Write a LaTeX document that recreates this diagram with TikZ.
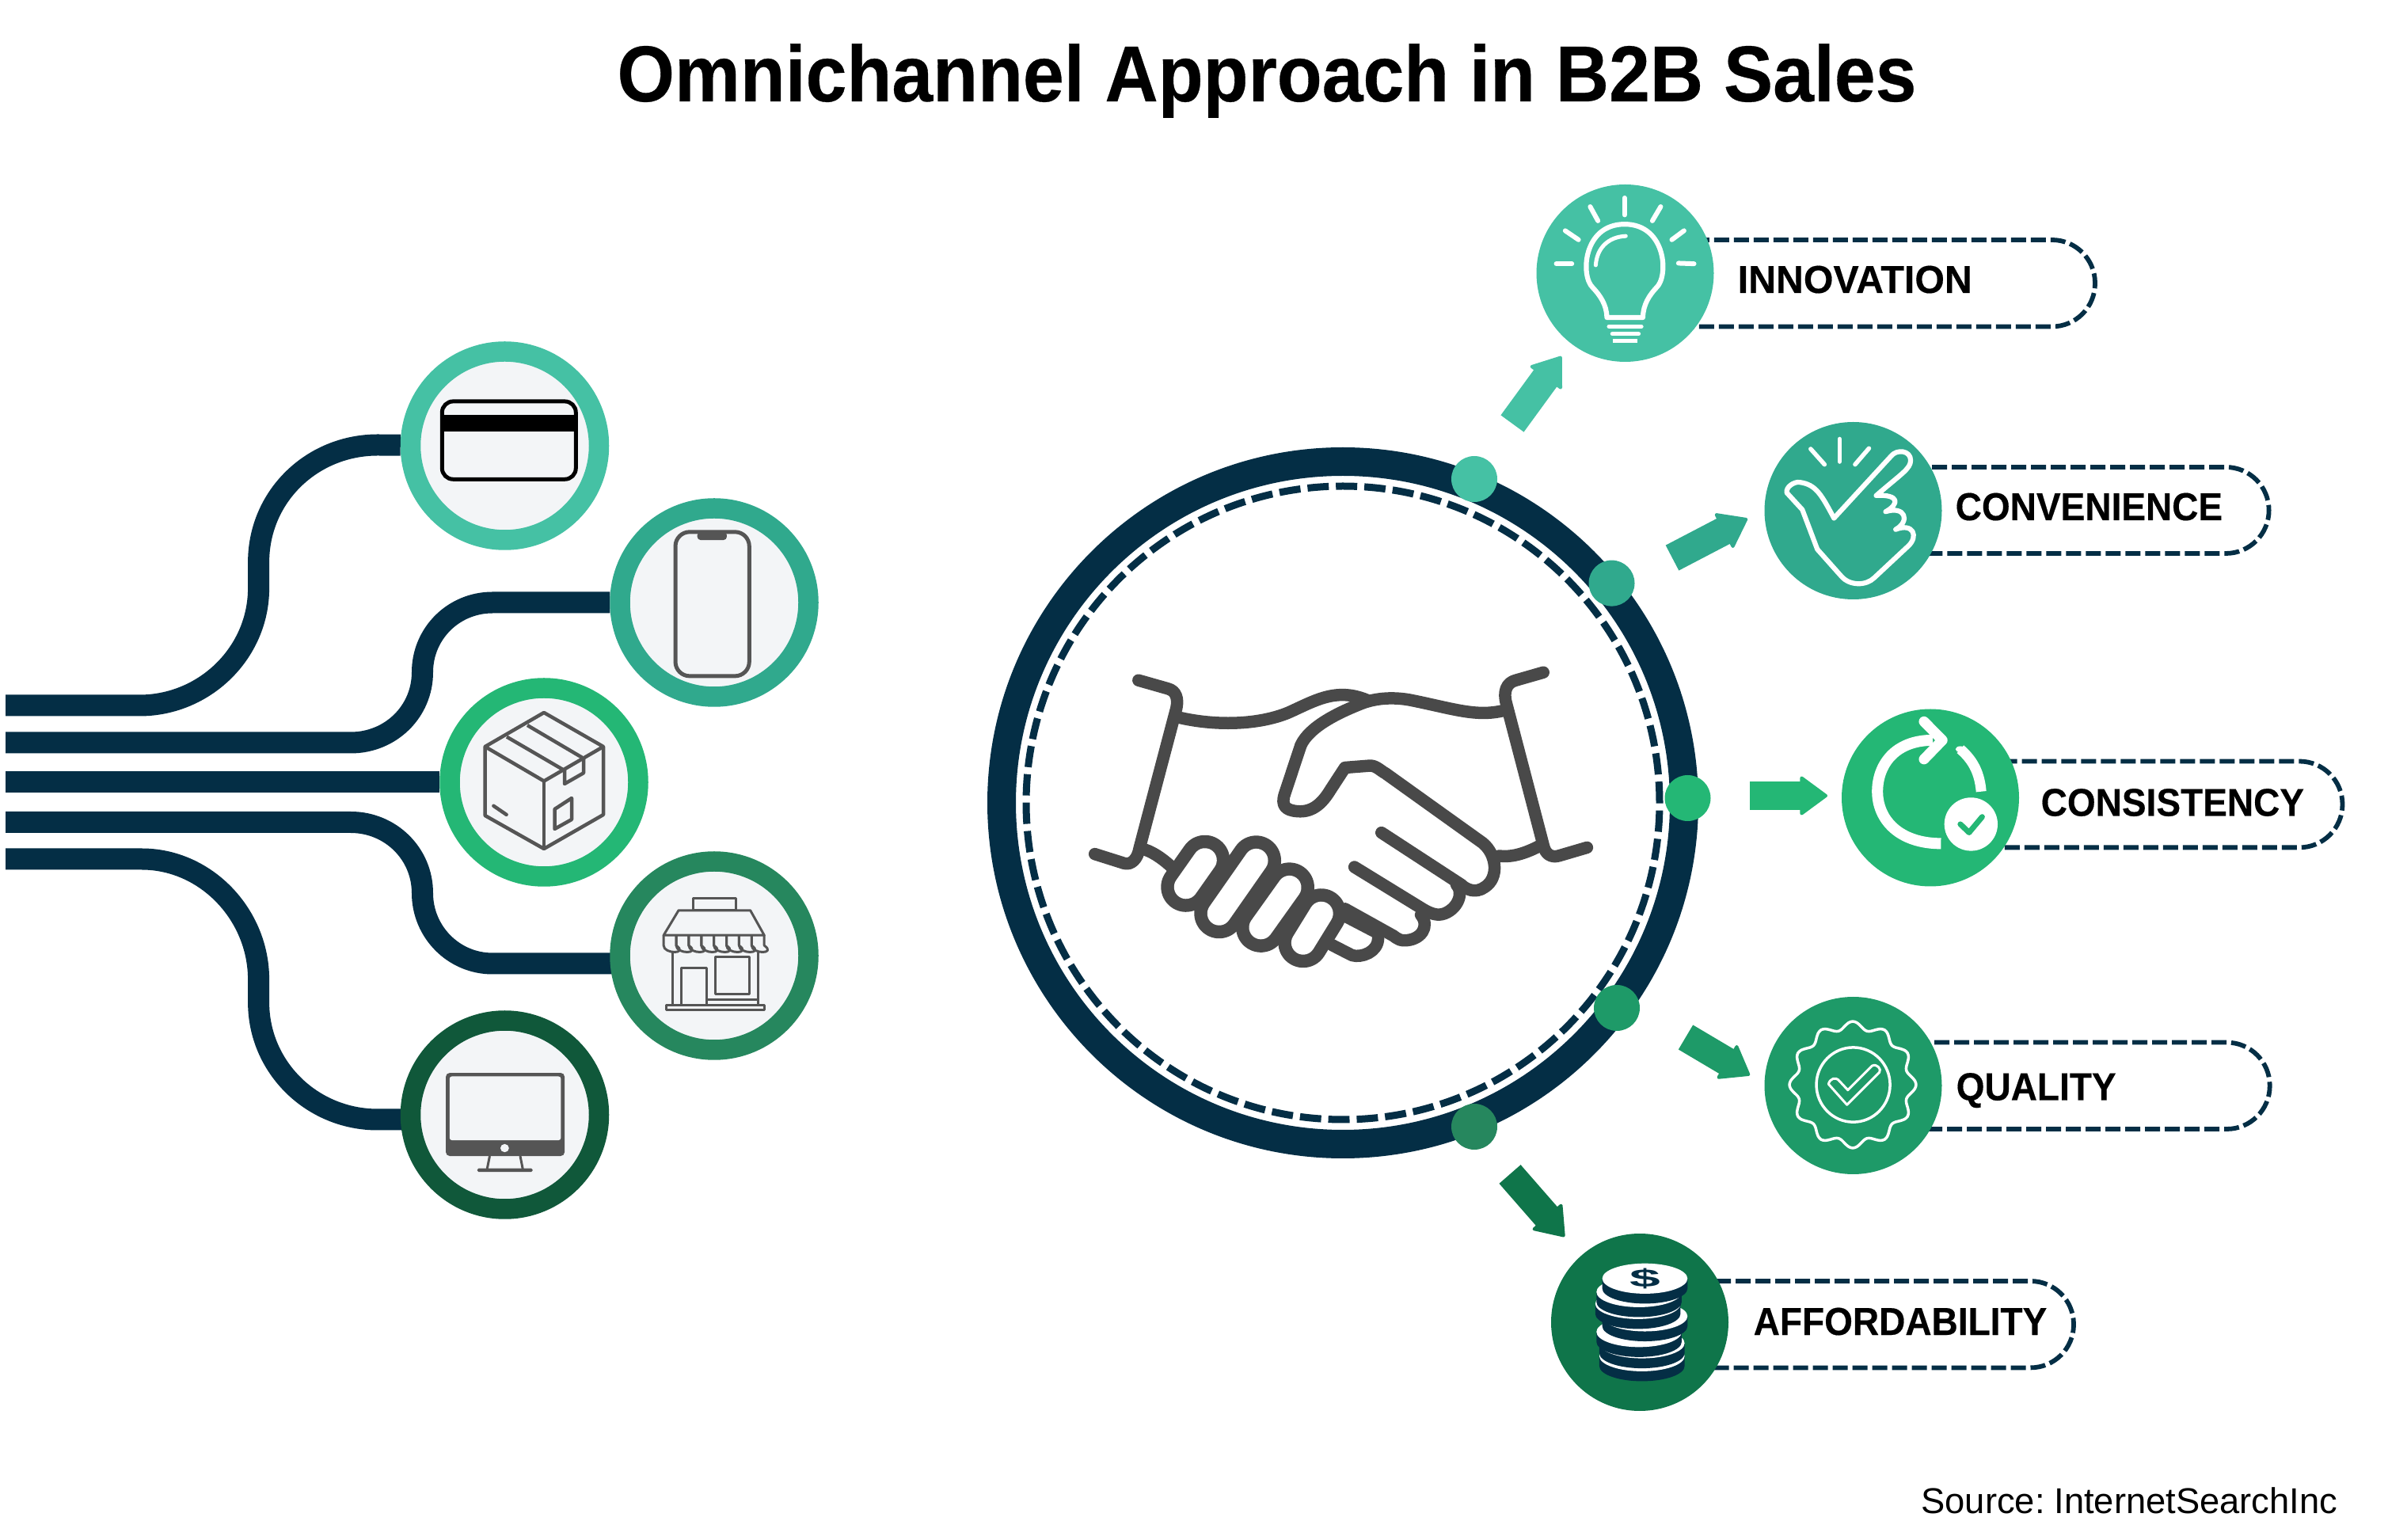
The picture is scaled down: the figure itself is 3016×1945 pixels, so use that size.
\documentclass[tikz,border=0pt]{standalone}
\usepackage{fontspec}
\setmainfont{Liberation Sans}
\newfontfamily\titlefont[FakeStretch=0.93,FakeBold=0.3]{Liberation Sans}
\newfontfamily\tagfont[FakeStretch=0.935,FakeBold=0.3]{Liberation Sans}
\newfontfamily\sourcefont[WordSpace=0.6]{Liberation Sans}
\usetikzlibrary{arrows.meta,backgrounds}
\definecolor{navy}{HTML}{042E45}
\definecolor{shade1}{HTML}{45C1A4}
\definecolor{shade2}{HTML}{30A98D}
\definecolor{shade3}{HTML}{24B775}
\definecolor{shade4}{HTML}{26875E}
\definecolor{shade5}{HTML}{10583A}
\definecolor{shade6}{HTML}{1E9A68}
\definecolor{shade7}{HTML}{0F754A}
\definecolor{paper}{HTML}{F3F5F7}
\definecolor{linegrey}{HTML}{555555}
\definecolor{shakegrey}{HTML}{494949}
\tikzset{
   gridA/.style={shift={(0,400)},x=0.0676mm,y=-0.04082mm},
   gridB/.style={shift={(0,1000)},x=0.0676mm,y=-0.03699mm},
   gridC/.style={shift={(1240,560)},x=0.05995mm,y=-0.05867mm},
   gridD/.style={shift={(1880,210)},x=0.07015mm,y=-0.03571mm},
   gridE/.style={shift={(2040,860)},x=0.06122mm,y=-0.04209mm},
   gridF/.style={shift={(1860,1400)},x=0.07372mm,y=-0.03476mm},
   ring/.style={circle,fill=paper,line width=2.55mm,minimum size=23.8mm,inner sep=0},
   badge/.style={circle,minimum size=22.4mm,inner sep=0},
   spot/.style={circle,minimum size=5.8mm,inner sep=0},
   bus/.style={draw=navy,line width=2.7mm},
   pill/.style={draw=navy,line width=0.58mm,dash pattern=on 1.9mm off 0.6mm,rounded corners=5.45mm},
   flow/.style={line width=3.6mm,-{Triangle[length=3.6mm,width=5.2mm,round,line width=0.4mm]}},
   tag/.style={font=\tagfont\bfseries\fontsize{14}{16}\selectfont,anchor=base west,inner sep=0},
   icon/.style={draw=white,line width=0.62mm,line cap=round,line join=round},
   thin/.style={draw=linegrey,line width=0.45mm,line join=round},
   shake/.style={draw=shakegrey,line width=1.55mm,line cap=round,line join=round}
}
\begin{document}
\begin{tikzpicture}[x=0.1mm,y=-0.1mm]
   \useasboundingbox (0,0) rectangle (3016,1945);
   \node[font=\titlefont\bfseries\fontsize{28.5}{34}\selectfont,anchor=base,inner sep=0] (title) at (1600,128) {Omnichannel Approach in B2B Sales};
   \node[font=\sourcefont\fontsize{12.9}{15}\selectfont,anchor=base east,inner sep=0] (source) at (2953,1911) {Source: InternetSearchInc};

   \node[ring,draw=shade1] (card) at (637.5,563) {};
   \node[ring,draw=shade2] (phone) at (902,761) {};
   \node[ring,draw=shade3] (parcel) at (687,988) {};
   \node[ring,draw=shade4] (store) at (902,1207) {};
   \node[ring,draw=shade5] (screen) at (637.5,1408) {};
   \coordinate (bus1) at (7,891);
   \coordinate (bus2) at (7,938);
   \coordinate (bus3) at (7,988);
   \coordinate (bus4) at (7,1038.5);
   \coordinate (bus5) at (7,1085);

   \node[badge,fill=shade1] (innovation) at (2052.5,345) {};
   \node[badge,fill=shade2] (convenience) at (2340.5,645) {};
   \node[badge,fill=shade3] (consistency) at (2438,1007.5) {};
   \node[badge,fill=shade6] (quality) at (2340.5,1371) {};
   \node[badge,fill=shade7] (affordability) at (2071,1670) {};
   \node[tag] (innovationtag) at (2194,370) {\scalebox{1.05}[1]{INNOVATION}};
   \node[tag] (conveniencetag) at (2469,657) {CONVENIENCE};
   \node[tag] (consistencytag) at (2577,1030.5) {CONSISTENCY};
   \node[tag] (qualitytag) at (2470,1389.5) {QUALITY};
   \node[tag] (affordabilitytag) at (2214,1686) {AFFORDABILITY};

   \node[circle,draw=navy,line width=3.6mm,minimum size=86.2cm/10,inner sep=0] (hub) at (1696,1014) {};
   \node[circle,draw=navy,line width=0.9mm,minimum size=80cm/10,inner sep=0,dash pattern=on 2.69mm off 0.9mm] (hubdash) at (hub) {};
   \node[spot,fill=shade1] (spot1) at (1862,605) {};
   \node[spot,fill=shade2] (spot2) at (2035.5,736.6) {};
   \node[spot,fill=shade3] (spot3) at (2131.5,1008) {};
   \node[spot,fill=shade6] (spot4) at (2042,1273) {};
   \node[spot,fill=shade4] (spot5) at (1862,1423) {};

   \begin{scope}[on background layer]
      \draw[bus] (bus1) -- (176,891) .. controls (259,891) and (326.6,824) .. (326.6,743) -- (326.6,710) .. controls (326.6,627) and (394,562) .. (477,562) -- (card);
      \draw[bus] (bus2) -- (443,938) .. controls (493,938) and (533.5,899) .. (533.5,849) .. controls (533.5,800) and (573,761) .. (622,761) -- (phone);
      \draw[bus] (bus3) -- (parcel);
      \draw[bus] (bus4) -- (443,1038.5) .. controls (493,1038.5) and (533.5,1078) .. (533.5,1128) .. controls (533.5,1177) and (573,1217) .. (622,1217) -- (store.center |- 622,1217);
      \draw[bus] (bus5) -- (179,1085) .. controls (260,1085) and (326.6,1155) .. (326.6,1237) -- (326.6,1266) .. controls (326.6,1348) and (394,1414) .. (477,1414) -- (screen.center |- 477,1414);
      \foreach \n/\top/\rx/\bot in {innovation/-42/2646/412.5,convenience/-55/2865.6/699,consistency/-46/2958.5/1070.4,quality/-54.4/2866.7/1426,affordability/-52/2619/1727.4}
         \draw[pill] ([shift={(0,\top)}]\n.center) rectangle (\rx,\bot);
   \end{scope}

   \draw[flow,draw=shade1] ([shift={(48,-70)}]spot1.center) -- ([shift={(-80.5,105)}]innovation.center);
   \draw[flow,draw=shade2] ([shift={(76.5,-32)}]spot2.center) -- ([shift={(-133.5,10)}]convenience.center);
   \draw[flow,draw=shade3] ([shift={(78.5,-3)}]spot3.center) -- ([shift={(-130,-2.5)}]consistency.center);
   \draw[flow,draw=shade6] ([shift={(87,37)}]spot4.center) -- ([shift={(-130.5,-13)}]quality.center);
   \draw[flow,draw=shade7] ([shift={(45,60)}]spot5.center) -- ([shift={(-95,-108)}]affordability.center);

   \begin{scope}[gridA]
      \fill (826,304) rectangle (1076,355);
      \draw[line width=0.5mm,rounded corners=1.4mm] (826,262) rectangle (1076,503);
      \draw[thin,line width=0.5mm,rounded corners=1.8mm] (1262,666) rectangle (1400,1112);
      \fill[linegrey,rounded corners=0.4mm] (1303,666) rectangle (1358,691);
   \end{scope}

   \draw[thin] (612.6,943) -- (687,900) -- (762,943) -- (762,1029) -- (687,1072) -- (612.6,1030) -- cycle;
   \draw[thin] (612.6,943) -- (687,986.5) -- (762,943);
   \draw[thin] (687,986.5) -- (687,1072);
   \draw[thin] (666,916) -- (735.6,957);
   \draw[thin] (640,930.6) -- (711,972);
   \draw[thin] (713,971) -- (713,990) -- (737,976.3) -- (737,957);
   \draw[thin] (700.5,1022) -- (722,1008) -- (722,1035) -- (700.5,1047) -- cycle;
   \draw[thin,line cap=round] (623.4,1017.8) -- (639.6,1028.9);

   \begin{scope}[gridB]
      \draw[thin,line width=0.3mm] (1295,405) rectangle (1375,365);
      \draw[thin,line width=0.3mm] (1268,405) -- (1402,405) -- (1428,490) -- (1240,490) -- cycle;
      \foreach \i in {0,...,7}
         \draw[thin,line width=0.3mm] ({1240+23.5*\i},490) -- ++(0,35) .. controls +(0,30) and +(23.5,30) .. ++(23.5,0) -- ++(0,-35);
      \draw[thin,line width=0.3mm] (1257,548) -- (1257,727);
      \draw[thin,line width=0.3mm] (1417,548) -- (1417,727);
      \draw[thin,line width=0.3mm] (1273,725) -- (1273,602) -- (1320,602) -- (1320,725);
      \draw[thin,line width=0.3mm] (1336,565) rectangle (1400,690);
      \draw[thin,line width=0.3mm] (1320,710) -- (1415,710);
      \draw[thin,line width=0.3mm] (1245,728) rectangle (1428,744);
      \fill[linegrey,rounded corners=0.5mm] (833,960) rectangle (1055,1244);
      \fill[paper,rounded corners=0.3mm] (840,972) rectangle (1048,1190);
      \fill[paper] (943,1217) ellipse [x radius=8,y radius=14];
      \draw[thin,line width=0.3mm] (915,1244) -- (910,1290);
      \draw[thin,line width=0.3mm] (972,1244) -- (977,1290);
      \fill[linegrey,rounded corners=0.15mm] (892,1286) rectangle (995,1298);
   \end{scope}

   \begin{scope}[gridC]
      \draw[shake] (330,510) -- (392,528) .. controls (410,533) and (414,550) .. (410,570) -- (332,872) .. controls (328,895) and (315,908) .. (300,904) -- (238,884);
      \draw[shake] (1183,493) -- (1125,510) .. controls (1105,515) and (1098,535) .. (1105,560) -- (1183,865) .. controls (1187,885) and (1200,892) .. (1215,888) -- (1275,870);
      \draw[shake] (415,590) .. controls (490,608) and (580,607) .. (645,580) .. controls (700,555) and (745,525) .. (810,552);
      \draw[shake] (1100,575) .. controls (1040,590) and (990,570) .. (900,552) .. controls (860,545) and (825,550) .. (800,560) .. controls (750,580) and (690,610) .. (672,650) -- (638,755) .. controls (630,780) and (640,790) .. (665,792) .. controls (700,795) and (720,770) .. (735,745) -- (765,698) -- (815,694) .. controls (830,692) and (840,705) .. (850,710) -- (1055,860) .. controls (1085,885) and (1090,935) .. (1060,955) .. controls (1040,970) and (1020,960) .. (1010,950) -- (842,838);
      \draw[shake] (1000,950) .. controls (1015,965) and (1005,1000) .. (975,1012) .. controls (960,1018) and (945,1012) .. (930,1003) -- (785,912);
      \draw[shake] (925,1015) .. controls (945,1040) and (925,1070) .. (890,1070) .. controls (875,1070) and (870,1060) .. (860,1056) -- (765,1002);
      \draw[shake] (835,1065) .. controls (835,1095) and (800,1108) .. (780,1102) -- (738,1080);
      \draw[shake] (770,1020) -- (830,1052);
      \draw[shake] (345,875) .. controls (365,882) and (385,898) .. (400,912);
      \draw[shake] (1090,888) .. controls (1120,892) and (1150,880) .. (1178,865);
      \foreach \ax/\ay/\bx/\by in {470/897/430/955,578/898/500/1012,648/956/588/1042,715/1012/677/1075}
         \draw[shakegrey,line width=6.3mm,line cap=round] (\ax,\ay) -- (\bx,\by);
      \foreach \ax/\ay/\bx/\by in {470/897/430/955,578/898/500/1012,648/956/588/1042,715/1012/677/1075}
         \draw[white,line width=3mm,line cap=round] (\ax,\ay) -- (\bx,\by);
   \end{scope}

   \begin{scope}[gridD]
      \draw[icon] (213,535) .. controls (213,490) and (200,455) .. (188,430) .. controls (165,390) and (170,205) .. (245,205) .. controls (320,205) and (325,390) .. (302,430) .. controls (290,455) and (278,490) .. (278,535) -- cycle;
      \draw[icon,line width=0.5mm] (193,350) .. controls (195,290) and (215,250) .. (247,247);
      \foreach \ax/\ay/\bx/\by in {245/112/245/172,183/143/197/193,310/143/295/193,138/228/162/260,352/228/330/260,122/345/150/345,342/343/370/345}
         \draw[icon,line width=0.6mm] (\ax,\ay) -- (\bx,\by);
      \draw[icon,line width=0.55mm] (217,567) -- (275,567);
      \draw[icon,line width=0.55mm] (223,593) -- (270,593);
      \fill[white] (224,611) rectangle (268,624);
      \draw[icon] (622,1245) -- (725,1025) .. controls (735,1000) and (760,1005) .. (760,1040) .. controls (760,1070) and (745,1085) .. (698,1165) .. controls (740,1160) and (740,1195) .. (715,1222) .. controls (750,1200) and (760,1255) .. (733,1285) .. controls (765,1260) and (775,1310) .. (755,1345) -- (695,1455) .. controls (680,1485) and (650,1485) .. (635,1450) -- (592,1355) -- (565,1215) -- (537,1155) .. controls (535,1135) and (550,1115) .. (560,1118) .. controls (590,1125) and (600,1165) .. (622,1245);
      \foreach \ax/\ay/\bx/\by in {580/1000/605/1055,632/965/632/1045,685/998/660/1055}
         \draw[icon,line width=0.55mm] (\ax,\ay) -- (\bx,\by);
   \end{scope}

   \begin{scope}[gridE]
      \draw[white,line width=1.4mm] (655,178) .. controls (575,178) and (541,255) .. (541,332) .. controls (541,415) and (585,488) .. (672,488);
      \draw[icon,line width=1.3mm] (637,122) -- (675,178) -- (637,235);
      \draw[white,line width=1.3mm] (712,205) .. controls (740,240) and (752,280) .. (755,332);
      \fill[white] (712,205) ellipse [x radius=10,y radius=9];
      \fill[white] (734,430) ellipse [x radius=55,y radius=80];
      \draw[draw=shade3,line width=0.7mm,line cap=round,line join=round] (712,430) -- (730,455) -- (757,408);
      \draw[icon,line width=0.35mm] (491,1212) ellipse [x radius=76,y radius=112];
      \draw[icon,line width=0.3mm] (478,1272) -- (440,1210) .. controls (443,1192) and (455,1190) .. (460,1197) -- (480,1228) -- (530,1155) .. controls (540,1148) and (550,1165) .. (545,1175) -- cycle;
   \end{scope}
   \draw[icon,line width=0.35mm] plot[smooth cycle,samples=96,domain=0:356.25] ({2340+(75+5*cos(12*\x))*cos(\x)},{1370+(75+5*cos(12*\x))*sin(\x)});

   \begin{scope}[gridF]
      \foreach \cx/\cy in {290/900,290/853,285/812,295/755,283/710,285/667,295/618} {
         \fill[navy] (\cx-73,\cy) -- (\cx-73,\cy+36) arc [start angle=180,end angle=360,x radius=73,y radius=-55] -- (\cx+73,\cy) -- cycle;
         \fill[white] (\cx,\cy) ellipse [x radius=73,y radius=55];
      }
      \node[font=\bfseries\fontsize{9}{10}\selectfont,text=navy,inner sep=0] (dollar) at (295,618) {\scalebox{2.2}[1]{\$}};
   \end{scope}
\end{tikzpicture}
\end{document}
